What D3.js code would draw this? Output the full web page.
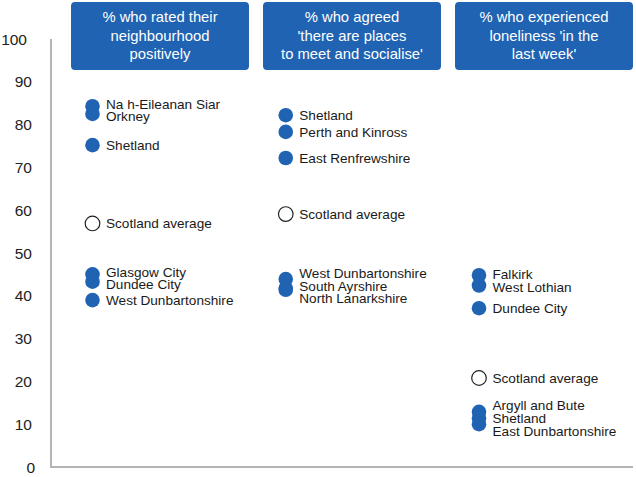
<!DOCTYPE html>
<html>
<head>
<meta charset="utf-8">
<script src="https://cdn.jsdelivr.net/npm/d3@7"></script>
<style>
  body { margin: 0; background: #fff; }
  text { font-family: "Liberation Sans", Arial, sans-serif; }
</style>
</head>
<body>
<div id="chart"></div>
<script>
const blue = "#1f63b2";
const axisGrey = "#b4b4b4";

// column headers, one entry per line
const headers = [
  ["% who rated their", "neighbourhood", "positively"],
  ["% who agreed", "'there are places", "to meet and socialise'"],
  ["% who experienced", "loneliness 'in the", "last week'"]
];
const columns = ["rated", "socialise", "lonely"];

const ratedNames = ["Na h-Eileanan Siar", "Orkney", "Shetland", "Scotland average",
                    "Glasgow City", "Dundee City", "West Dunbartonshire"];
const ratedValues = [84.3, 82.5, 75.2, 56.9, 45.0, 43.3, 39.0];

const socialNames = ["Shetland", "Perth and Kinross", "East Renfrewshire", "Scotland average",
                     "West Dunbartonshire", "South Ayrshire", "North Lanarkshire"];
const socialValues = [82.2, 78.3, 72.2, 59.1, 43.9, 41.8, 41.4];

const lonelyNames = ["Falkirk", "West Lothian", "Dundee City", "Scotland average",
                     "Argyll and Bute", "Shetland", "East Dunbartonshire"];
const lonelyValues = [44.8, 42.4, 37.1, 20.8, 12.9, 11.4, 10.0];

const yTicks = [0, 10, 20, 30, 40, 50, 60, 70, 80, 90, 100];

const width = 636, height = 477;

const svg = d3.select("#chart")
  .append("svg")
    .attr("width", width)
    .attr("height", height);

const yScale = d3.scaleLinear()
  .domain([0, 100])
  .range([467, 39]);

const xBand = d3.scaleBand()
  .domain(columns)
  .range([64, 640])
  .paddingInner(0.073)
  .paddingOuter(0.0365);

// dots sit a little to the left inside each column
const xDot = d3.scalePoint()
  .domain(columns)
  .range([92.5, 479]);

// axis lines
svg.append("line")
  .attr("x1", 51).attr("x2", 51)
  .attr("y1", yScale(100)).attr("y2", yScale(0) + 1)
  .attr("stroke", axisGrey)
  .attr("stroke-width", 2);

svg.append("line")
  .attr("x1", 50).attr("x2", 633)
  .attr("y1", yScale(0)).attr("y2", yScale(0))
  .attr("stroke", axisGrey)
  .attr("stroke-width", 2);

// tick labels (the original has a couple a bit off the line)
const tickNudge = {0: 3, 100: -5};
svg.append("g")
  .selectAll("text")
  .data(yTicks)
  .join("text")
    .attr("x", d => 32 + (tickNudge[d] || 0))
    .attr("y", d => yScale(d))
    .attr("dy", "0.36em")
    .attr("text-anchor", "end")
    .attr("font-size", 15.5)
    .attr("fill", "#222")
    .text(d => d);

// header boxes
const head = svg.append("g")
  .selectAll("g")
  .data(columns)
  .join("g")
    .attr("transform", d => "translate(" + xBand(d) + ",2)");

head.append("rect")
  .attr("width", xBand.bandwidth())
  .attr("height", 68)
  .attr("rx", 4)
  .attr("fill", blue);

head.append("text")
  .attr("text-anchor", "middle")
  .attr("font-size", 14.8)
  .attr("fill", "#fff")
  .selectAll("tspan")
  .data((d, i) => headers[i])
  .join("tspan")
    .attr("x", xBand.bandwidth() / 2)
    .attr("y", (d, i) => 20 + i * 18.5)
    .text(d => d);

// points + labels
const series = [
  {col: "rated", names: ratedNames, values: ratedValues},
  {col: "socialise", names: socialNames, values: socialValues},
  {col: "lonely", names: lonelyNames, values: lonelyValues}
];

// push labels apart so they don't overlap
const spreadLabels = (ys, gap) => {
  let groups = ys.map(y => ({ys: [y], top: y}));
  let moved = true;
  while (moved) {
    moved = false;
    for (let i = 0; i < groups.length - 1; i++) {
      let a = groups[i], b = groups[i + 1];
      if (a.top + (a.ys.length - 1) * gap + gap > b.top) {
        let all = a.ys.concat(b.ys);
        let mean = d3.mean(all);
        groups.splice(i, 2, {ys: all, top: mean - (all.length - 1) * gap / 2});
        moved = true;
        break;
      }
    }
  }
  let out = [];
  groups.forEach(g => g.ys.forEach((y, k) => out.push(g.top + k * gap)));
  return out;
};

series.forEach(s => {
  const cx = xDot(s.col);
  const rows = s.names.map((n, i) => ({name: n, value: s.values[i]}));
  const labelY = spreadLabels(rows.map(r => yScale(r.value)), 12.6);

  const g = svg.append("g");

  g.selectAll("circle")
    .data(rows)
    .join("circle")
      .attr("cx", cx)
      .attr("cy", d => yScale(d.value))
      .attr("r", 7.3)
      .attr("fill", d => d.name == "Scotland average" ? "#fff" : blue)
      .attr("stroke", d => d.name == "Scotland average" ? "#222" : "none")
      .attr("stroke-width", 1.2);

  g.selectAll("text")
    .data(rows)
    .join("text")
      .attr("x", cx + 13.5)
      .attr("y", (d, i) => labelY[i])
      .attr("dy", "0.36em")
      .attr("font-size", 13.6)
      .attr("fill", "#1a1a1a")
      .text(d => d.name);
});
</script>
</body>
</html>
